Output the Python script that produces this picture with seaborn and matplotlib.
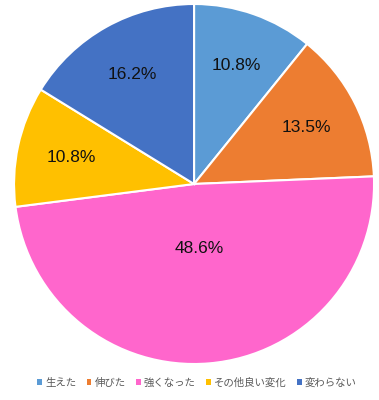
import matplotlib
matplotlib.use("Agg")
import matplotlib.pyplot as plt
from matplotlib.patches import Patch
import seaborn as sns
import numpy as np

categories = ["生えた", "伸びた", "強くなった", "その他良い変化", "変わらない"]
counts = [4, 5, 18, 4, 6]
colors = ["#5B9BD5", "#ED7D31", "#FF66CC", "#FFC000", "#4472C4"]

sns.set_style("white")
plt.rcParams['font.family'] = ['Noto Sans CJK JP', 'DejaVu Sans']

fig = plt.figure(figsize=(3.79, 4.00), dpi=100)
ax = fig.add_axes([0.037, 0.09, 0.95, 0.90])
wedges, texts, autotexts = ax.pie(
    counts, colors=colors, startangle=90, counterclock=False,
    autopct="%.1f%%", pctdistance=0.7,
    wedgeprops=dict(edgecolor="white", linewidth=1.5),
    textprops=dict(fontsize=12.5, color="#111111", family=['Liberation Sans', 'DejaVu Sans']),
    radius=1.0)
# Move the largest slice label closer to the center
big = int(np.argmax(counts))
w = wedges[big]
ang = np.deg2rad((w.theta1 + w.theta2) / 2)
autotexts[big].set_position((0.36 * np.cos(ang), 0.36 * np.sin(ang)))
ax.set_aspect("equal")
ax.set_xlim(-1, 1)
ax.set_ylim(-1, 1)

handles = [Patch(facecolor=c, edgecolor="none") for c in colors]
fig.legend(handles, categories, loc="center", bbox_to_anchor=(0.52, 0.043),
           ncol=5, frameon=False, fontsize=7.5, handlelength=0.45, handleheight=0.45,
           handletextpad=0.3, columnspacing=1.0, labelcolor="#595959")
fig.savefig("out.png", dpi=100, facecolor="white")
